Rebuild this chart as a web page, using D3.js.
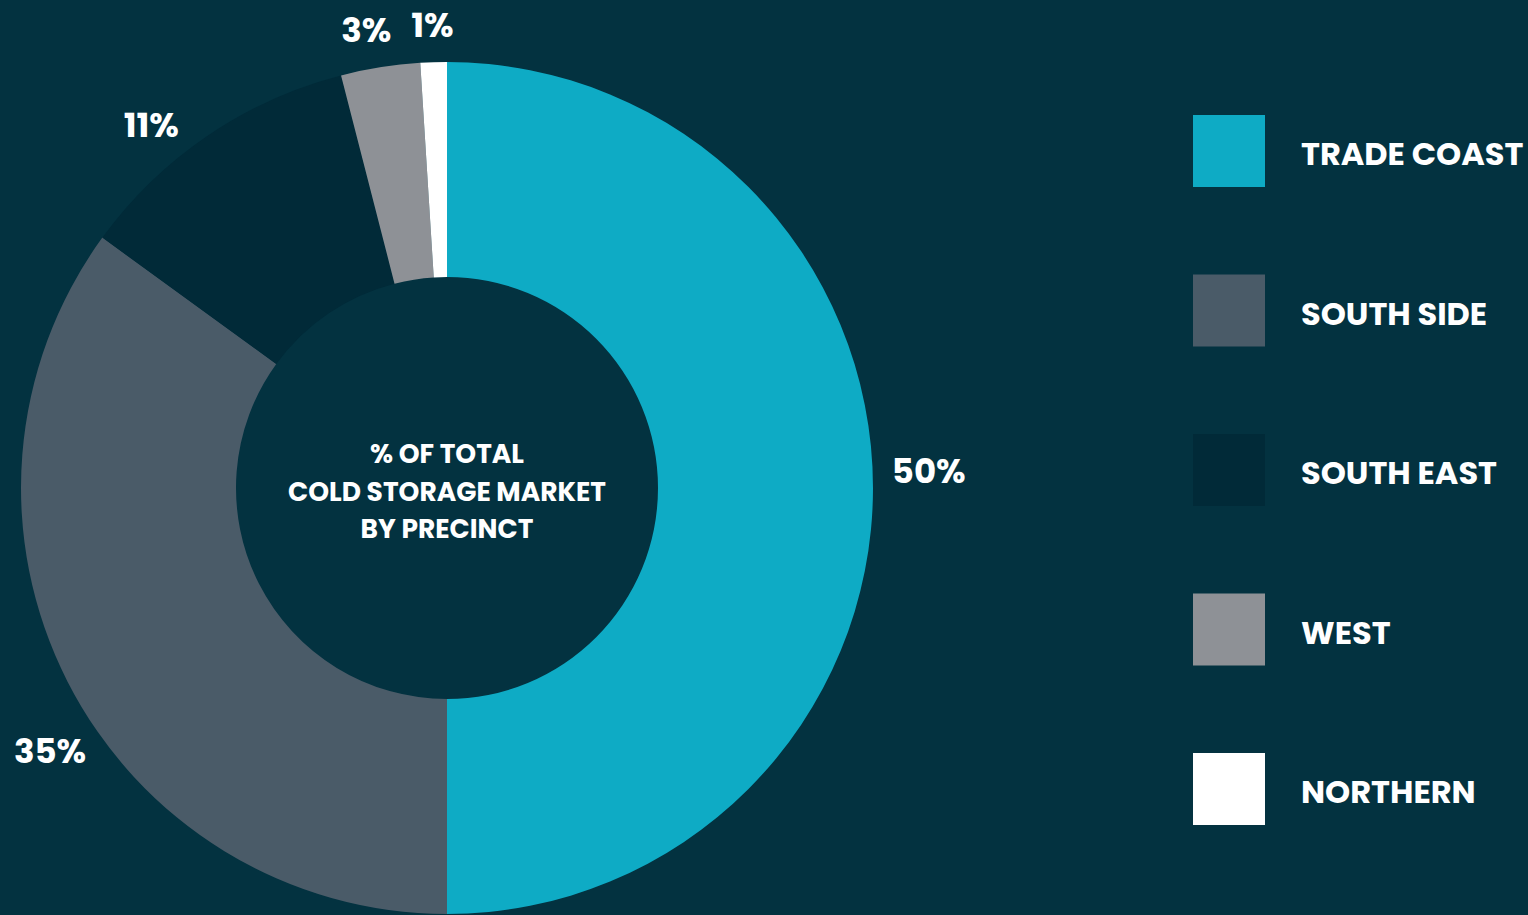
<!DOCTYPE html>
<html>
<head>
<meta charset="utf-8">
<script src="https://cdn.jsdelivr.net/npm/d3@7"></script>
<style>
  html, body { margin: 0; padding: 0; background: #033240; }
  svg { display: block; font-family: Poppins, Inter, "Open Sans", sans-serif; font-weight: 700; }
</style>
</head>
<body>
<script>
// data
const precincts = ["TRADE COAST", "SOUTH SIDE", "SOUTH EAST", "WEST", "NORTHERN"];
const shares = [50, 35, 11, 3, 1];
const colours = ["#0eabc5", "#4a5b68", "#012a38", "#8e9196", "#ffffff"];
const centreLines = ["% OF TOTAL", "COLD STORAGE MARKET", "BY PRECINCT"];

// label placement: turn (degrees) away from slice middle, and distance from centre
const labelTurn = [-2, -6.5, -5, -1, 0];
const labelDist = [482, 476, 468, 465, 463];

let wSvg = 1528;
let hSvg = 915;
let cx = 447;
let cy = 488;
let rOuter = 426;
let rInner = 211;

let svg = d3.select("body").append("svg")
    .attr("width", wSvg)
    .attr("height", hSvg);

svg.append("rect").attr("width", wSvg).attr("height", hSvg).attr("fill", "#033240");

const pie = d3.pie().sort(null).value((d) => d.value);
const arcs = pie(precincts.map((p, i) => ({ name: p, value: shares[i], colour: colours[i] })));

const arc = d3.arc().innerRadius(rInner).outerRadius(rOuter);

let g = svg.append("g").attr("transform", `translate(${cx},${cy})`);

g.selectAll("path")
    .data(arcs)
    .enter()
    .append("path")
    .attr("d", arc)
    .attr("fill", (d) => d.data.colour);

g.selectAll("text.pct")
    .data(arcs)
    .enter()
    .append("text")
    .attr("class", "pct")
    .attr("transform", (d, i) => {
        let a = (d.startAngle + d.endAngle) / 2 + labelTurn[i] * Math.PI / 180;
        let x = Math.sin(a) * labelDist[i];
        let y = -Math.cos(a) * labelDist[i];
        return `translate(${x},${y})`;
    })
    .attr("text-anchor", "middle")
    .attr("dy", "0.35em")
    .attr("fill", "#ffffff")
    .attr("font-size", 34)
    .text((d) => d.data.value + "%");

// centre caption
g.append("text")
    .attr("text-anchor", "middle")
    .attr("fill", "#ffffff")
    .attr("font-size", 26.5)
    .selectAll("tspan")
    .data(centreLines)
    .enter()
    .append("tspan")
    .attr("x", 0)
    .attr("y", (d, i) => -25 + i * 37.5)
    .text((d) => d);

// legend
let legend = svg.append("g").attr("transform", "translate(1193,115)");
let item = legend.selectAll("g")
    .data(precincts)
    .enter()
    .append("g")
    .attr("transform", (d, i) => `translate(0,${i * 159.5})`);

item.append("rect")
    .attr("width", 72)
    .attr("height", 72)
    .attr("fill", (d, i) => colours[i]);

item.append("text")
    .attr("x", 108)
    .attr("y", 39)
    .attr("dy", "0.35em")
    .attr("fill", "#ffffff")
    .attr("font-size", 32)
    .text((d) => d);
</script>
</body>
</html>
